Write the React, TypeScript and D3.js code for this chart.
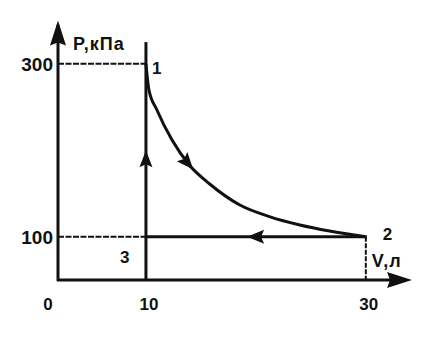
import React, { useEffect, useRef } from 'react';
import * as d3 from 'd3';

// tick labels on the axes
const volumeTicks = [0, 10, 30];
const pressureTicks = [100, 300];

// expansion 1 -> 2 (V in л, P in кПа)
const curveV = [10, 10.27, 11, 12.36, 14, 15.8, 18.5, 21.3, 24, 26.7, 30];
const curveP = [300, 270, 246.5, 212, 182, 161, 137, 123, 113.6, 106.6, 100];

// state points of the cycle
const stateNames = ['1', '2', '3'];
const stateV = [10, 30, 10];
const stateP = [300, 100, 100];

const App = () => {
  const svgRef = useRef<SVGSVGElement | null>(null);

  useEffect(() => {
    const width = 421;
    const height = 352;

    const svg = d3.select(svgRef.current);
    svg.selectAll('*').remove();
    svg.attr('width', width).attr('height', height);

    // the drawing is a sketch: axes start at V=2, P=50
    const x = d3.scaleLinear().domain([2, 34.2]).range([58, 412]);
    const y = d3.scaleLinear().domain([50, 350]).range([280, 20.5]);

    const ink = '#111';
    const font = '"Liberation Sans", Arial, sans-serif';

    const arrowHead = (tx, ty, angle, len, half) => {
      const c = Math.cos(angle);
      const s = Math.sin(angle);
      const bx = tx - c * len;
      const by = ty - s * len;
      const pts = [
        [tx, ty],
        [bx - s * half, by + c * half],
        [bx + c * 3, by + s * 3],
        [bx + s * half, by - c * half],
      ];
      svg.append('polygon')
        .attr('points', pts.map(p => p.join(',')).join(' '))
        .attr('fill', ink);
    };

    const x0 = x(2);
    const y0 = y(50);

    // dashed guides
    svg.append('line')
      .attr('x1', x0).attr('x2', x(stateV[0]))
      .attr('y1', y(stateP[0])).attr('y2', y(stateP[0]))
      .attr('stroke', ink).attr('stroke-width', 2)
      .attr('stroke-dasharray', '6,1.5');
    svg.append('line')
      .attr('x1', x0).attr('x2', x(stateV[2]))
      .attr('y1', y(stateP[2])).attr('y2', y(stateP[2]))
      .attr('stroke', ink).attr('stroke-width', 2)
      .attr('stroke-dasharray', '6,1.5');
    svg.append('line')
      .attr('x1', x(stateV[1])).attr('x2', x(stateV[1]))
      .attr('y1', y(stateP[1])).attr('y2', y0)
      .attr('stroke', ink).attr('stroke-width', 2)
      .attr('stroke-dasharray', '5,1.5');

    // axes
    svg.append('line')
      .attr('x1', x0).attr('x2', x0)
      .attr('y1', y0 + 1).attr('y2', y(345))
      .attr('stroke', ink).attr('stroke-width', 3);
    arrowHead(x0, y(350), -Math.PI / 2, 25, 8);
    svg.append('line')
      .attr('x1', x0 - 1).attr('x2', x(33))
      .attr('y1', y0).attr('y2', y0)
      .attr('stroke', ink).attr('stroke-width', 3);
    arrowHead(x(34.2), y0, 0, 25, 8);

    // 3 -> 1 (isochore), drawn above the top state
    svg.append('line')
      .attr('x1', x(10)).attr('x2', x(10))
      .attr('y1', y0).attr('y2', y(325))
      .attr('stroke', ink).attr('stroke-width', 3);
    arrowHead(x(10), y(200), -Math.PI / 2, 17, 6.5);

    // 2 -> 3 (isobar)
    svg.append('line')
      .attr('x1', x(stateV[2])).attr('x2', x(stateV[1]) + 1)
      .attr('y1', y(stateP[1])).attr('y2', y(stateP[1]))
      .attr('stroke', ink).attr('stroke-width', 3);
    arrowHead(x(19.2), y(stateP[1]), Math.PI, 17, 7);

    // 1 -> 2 curve
    const line = d3.line()
      .x(d => x(d[0]))
      .y(d => y(d[1]))
      .curve(d3.curveMonotoneX);
    const path = svg.append('path')
      .datum(curveV.map((v, i) => [v, curveP[i]]))
      .attr('d', line)
      .attr('fill', 'none')
      .attr('stroke', ink)
      .attr('stroke-width', 3);

    // arrow on the curve where V ~ 14.3
    const node = path.node();
    const total = node.getTotalLength();
    const targetX = x(14.3);
    let lo = 0;
    let hi = total;
    for (let i = 0; i < 30; i++) {
      const mid = (lo + hi) / 2;
      if (node.getPointAtLength(mid).x < targetX) lo = mid; else hi = mid;
    }
    const tip = node.getPointAtLength(lo);
    const back = node.getPointAtLength(Math.max(0, lo - 8));
    arrowHead(tip.x, tip.y, Math.atan2(tip.y - back.y, tip.x - back.x), 17, 7);

    // tick labels
    svg.selectAll('text.ptick')
      .data(pressureTicks)
      .join('text')
      .attr('class', 'ptick')
      .attr('x', x0 - 5)
      .attr('y', d => y(d) + 7)
      .attr('text-anchor', 'end')
      .style('font-family', font)
      .style('font-weight', 'bold')
      .style('font-size', '19px')
      .attr('fill', ink)
      .text(d => d);

    svg.selectAll('text.vtick')
      .data(volumeTicks)
      .join('text')
      .attr('class', 'vtick')
      .attr('x', d => (d === 0 ? x0 - 10 : x(d) + 3))
      .attr('y', 310)
      .attr('text-anchor', 'middle')
      .style('font-family', font)
      .style('font-weight', 'bold')
      .style('font-size', '17px')
      .attr('fill', ink)
      .text(d => d);

    // axis titles
    svg.append('text')
      .attr('x', x0 + 15)
      .attr('y', 50)
      .style('font-family', font)
      .style('font-weight', 'bold')
      .style('font-size', '18px')
      .style('letter-spacing', '1px')
      .attr('fill', ink)
      .text('P,кПа');
    svg.append('text')
      .attr('x', x(30) + 6)
      .attr('y', 267)
      .style('font-family', font)
      .style('font-weight', 'bold')
      .style('font-size', '18px')
      .style('letter-spacing', '1px')
      .attr('fill', ink)
      .text('V,л');

    // state numbers
    const offsets = [[6, 10], [17, 3], [-26, 26]];
    svg.selectAll('text.state')
      .data(stateNames)
      .join('text')
      .attr('class', 'state')
      .attr('x', (d, i) => x(stateV[i]) + offsets[i][0])
      .attr('y', (d, i) => y(stateP[i]) + offsets[i][1])
      .style('font-family', font)
      .style('font-weight', 'bold')
      .style('font-size', '17px')
      .attr('fill', ink)
      .text(d => d);
  }, []);

  return (
    <svg
      ref={svgRef}
      style={{ position: 'absolute', left: 0, top: 0, background: '#fff' }}
    />
  );
};

export default App;
